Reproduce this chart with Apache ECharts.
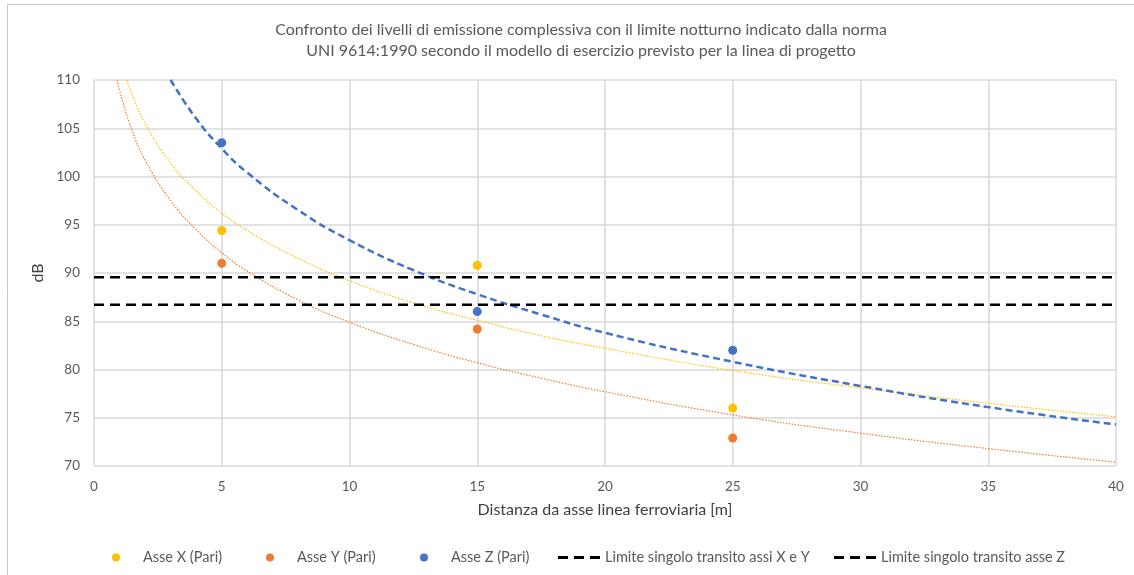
<!DOCTYPE html>
<html>
<head>
<meta charset="utf-8">
<script src="https://cdn.jsdelivr.net/npm/echarts@6/dist/echarts.min.js"></script>
<style>
  html, body { margin: 0; padding: 0; background: #fff; }
  #chart { width: 1134px; height: 575px; }
</style>
</head>
<body>
<div id="chart"></div>
<script>
// misure
const distances = [5, 15, 25]
const asseX = [94.4, 90.8, 76.0]
const asseY = [91.0, 84.2, 72.9]
const asseZ = [103.5, 86.0, 82.0]

// linee di tendenza
const trendXd = [1.28, 1.5, 2, 3, 4, 5, 6, 8, 10, 12.5, 15, 17.5, 20, 25, 30, 35, 40]
const trendXv = [110.0, 108.4, 105.5, 101.4, 98.5, 96.2, 94.4, 91.5, 89.2, 86.9, 85.1, 83.5, 82.2, 79.9, 78.1, 76.5, 75.1]
const trendYd = [0.9, 1, 1.5, 2, 3, 4, 5, 6, 8, 10, 12.5, 15, 17.5, 20, 25, 30, 35, 40]
const trendYv = [110.0, 108.9, 104.7, 101.7, 97.5, 94.5, 92.1, 90.2, 87.2, 84.9, 82.6, 80.7, 79.1, 77.7, 75.3, 73.4, 71.8, 70.4]
const trendZd = [3, 4, 5, 6, 8, 10, 12.5, 15, 17.5, 20, 25, 30, 35, 40]
const trendZv = [110.0, 106.0, 102.9, 100.4, 96.5, 93.4, 90.3, 87.8, 85.7, 83.8, 80.8, 78.3, 76.1, 74.3]

// limiti
const limitRange = [0, 40]
const limitXY = 89.55
const limitZ = 86.7

const names = ['Asse X (Pari)', 'Asse Y (Pari)', 'Asse Z (Pari)',
  'Limite singolo transito assi X e Y', 'Limite singolo transito asse Z']

const pairs = (xs, ys) => xs.map((x, i) => [x, ys[i]])
const dashIcon = 'path://M0,0H10V3H0Z M16,0H26V3H16Z M32,0H42V3H32Z'
const font = 'Lato, "Liberation Sans", sans-serif'

const chart = echarts.init(document.getElementById('chart'))

const legendAt = (name, left, icon, w, h, pad) => ({
  left: left,
  top: 550,
  padding: 0,
  itemWidth: w,
  itemHeight: h,
  itemGap: 0,
  selectedMode: false,
  data: [{ name: name, icon: icon }],
  textStyle: { color: '#595959', fontSize: 14.5, fontFamily: font, padding: [0, 0, 0, pad] }
})

chart.setOption({
  animation: false,
  backgroundColor: '#fff',
  graphic: [{
    type: 'rect',
    shape: { x: 7.5, y: 4.5, width: 1140, height: 580 },
    style: { fill: 'none', stroke: '#c8c8c8', lineWidth: 1 },
    silent: true
  }],
  title: {
    text: 'Confronto dei livelli di emissione complessiva con il limite notturno indicato dalla norma\nUNI 9614:1990 secondo il modello di esercizio previsto per la linea di progetto',
    left: 576,
    textAlign: 'center',
    top: 14,
    textStyle: { color: '#595959', fontSize: 16, fontWeight: 'normal', fontFamily: font, lineHeight: 21 }
  },
  legend: [
    legendAt(names[0], 112, 'circle', 8, 8, 18),
    legendAt(names[1], 266, 'circle', 8, 8, 18),
    legendAt(names[2], 420, 'circle', 8, 8, 18),
    legendAt(names[3], 558, dashIcon, 42, 3, 0),
    legendAt(names[4], 834, dashIcon, 42, 3, 0)
  ],
  grid: { left: 94, right: 18, top: 80, bottom: 109 },
  xAxis: {
    type: 'value',
    min: 0,
    max: 40,
    interval: 5,
    name: 'Distanza da asse linea ferroviaria [m]',
    nameLocation: 'middle',
    nameGap: 36,
    nameTextStyle: { color: '#404040', fontSize: 16, fontFamily: font },
    axisLine: { show: false },
    axisTick: { show: false },
    axisLabel: { color: '#595959', fontSize: 13.5, fontFamily: font, margin: 14 },
    splitLine: { show: true, lineStyle: { color: '#d9d9d9', width: 1.5 } }
  },
  yAxis: {
    type: 'value',
    min: 70,
    max: 110,
    interval: 5,
    name: 'dB',
    nameLocation: 'middle',
    nameGap: 43,
    nameTextStyle: { color: '#404040', fontSize: 16, fontFamily: font },
    axisLine: { show: false },
    axisTick: { show: false },
    axisLabel: { color: '#595959', fontSize: 13.5, fontFamily: font, margin: 14 },
    splitLine: { show: true, lineStyle: { color: '#d9d9d9', width: 1.5 } }
  },
  series: [
    {
      type: 'line', data: pairs(trendXd, trendXv), smooth: true, showSymbol: false, silent: true,
      lineStyle: { color: '#FFC000', width: 1.2, type: [1.5, 1.5] }, z: 2
    },
    {
      type: 'line', data: pairs(trendYd, trendYv), smooth: true, showSymbol: false, silent: true,
      lineStyle: { color: '#ED7D31', width: 1.2, type: [1.5, 1.5] }, z: 2
    },
    {
      type: 'line', data: pairs(trendZd, trendZv), smooth: true, showSymbol: false, silent: true,
      lineStyle: { color: '#4472C4', width: 2.5, type: [7, 4] }, z: 2
    },
    {
      name: names[3], type: 'line', data: limitRange.map(x => [x, limitXY]), showSymbol: false,
      color: '#000', lineStyle: { color: '#000', width: 2.5, type: [10, 6] }, z: 3
    },
    {
      name: names[4], type: 'line', data: limitRange.map(x => [x, limitZ]), showSymbol: false,
      color: '#000', lineStyle: { color: '#000', width: 2.5, type: [10, 6] }, z: 3
    },
    {
      name: names[0], type: 'scatter', data: pairs(distances, asseX), symbolSize: 9,
      itemStyle: { color: '#FFC000', opacity: 1 }, z: 4
    },
    {
      name: names[1], type: 'scatter', data: pairs(distances, asseY), symbolSize: 9,
      itemStyle: { color: '#ED7D31', opacity: 1 }, z: 4
    },
    {
      name: names[2], type: 'scatter', data: pairs(distances, asseZ), symbolSize: 9,
      itemStyle: { color: '#4472C4', opacity: 1 }, z: 4
    }
  ]
})
</script>
</body>
</html>
